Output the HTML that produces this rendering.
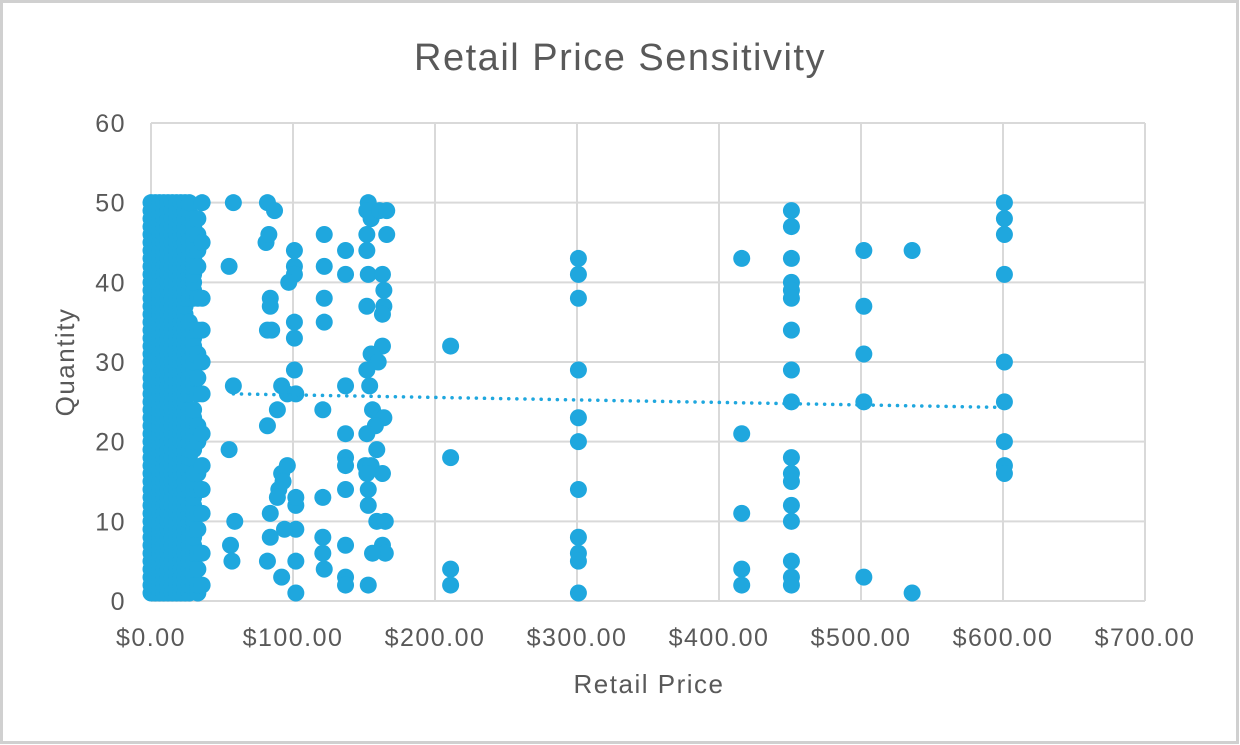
<!DOCTYPE html>
<html><head><meta charset="utf-8">
<style>
html,body{margin:0;padding:0;background:#fff;}
#wrap{position:relative;width:1240px;height:745px;overflow:hidden;}
svg text{font-family:"Liberation Sans","DejaVu Sans",sans-serif;fill:#595959;}
</style></head>
<body>
<div id="wrap">
<svg id="chart" width="1240" height="745">
  <rect x="1.5" y="1.5" width="1236" height="741" fill="#fff" stroke="#d0d0d0" stroke-width="3"/>
  <text x="620" y="70" text-anchor="middle" font-size="38" letter-spacing="1.5">Retail Price Sensitivity</text>
  <g id="grid"></g>
  <g id="yticks"></g>
  <g id="xticks"></g>
  <g id="points"></g>
  <g id="trend"></g>
  <text transform="translate(74,362) rotate(-90)" text-anchor="middle" font-size="26" letter-spacing="1.5">Quantity</text>
  <text x="649" y="693" text-anchor="middle" font-size="26" letter-spacing="1.5">Retail Price</text>
</svg>
</div>
<script>
const xTicks=[0,100,200,300,400,500,600,700];
const xTickLabels=["$0.00","$100.00","$200.00","$300.00","$400.00","$500.00","$600.00","$700.00"];
const yTicks=[0,10,20,30,40,50,60];
const yTickLabels=["0","10","20","30","40","50","60"];
const clusterPrices=[0,3,6,9,12,15,18,21,24,27,30,33,36];
const clusterQtys=[
"1-50","1-50","1-50","1-50","1-50","1-50","1-50","1-50","1-50",
"1-12,14-24,26-35,38-50","2-16,19-24,27-34,38-48","1 2 4 6 9 11 14 16 20 22 26 28 31 34 38 42 44 46 48","2 6 11 14 17 21 26 30 34 38 45 50"
];
const outPrices=[58,55,58,55,59,56,57,
82,87,81,83,84,84,82,85,92,89,82,101,101,101,97,101,101,101,96,102,92,96,93,90,102,102,89,84,102,94,84,102,82,92,102,
122,122,122,122,121,121,121,121,122,
137,137,137,137,137,137,137,137,137,137,
153,152,155,161,166,166,152,152,153,163,164,152,164,163,163,155,160,152,154,156,161,164,158,152,159,151,155,163,152,153,153,159,165,163,165,156,153,
211,211,211,211,
301,301,301,301,301,301,301,301,301,301,301,
416,416,416,416,416,
451,451,451,451,451,451,451,451,451,451,451,451,451,451,451,451,451,
502,502,502,502,502,
536,536,
601,601,601,601,601,601,601,601,601];
const outQtys=[50,42,27,19,10,7,5,
50,49,45,46,38,37,34,34,27,24,22,44,42,41,40,35,33,29,26,26,16,17,15,14,12,13,13,11,9,9,8,5,5,3,1,
46,42,38,35,24,13,8,6,4,
44,41,27,21,18,17,14,7,3,2,
50,49,48,49,49,46,46,44,41,41,39,37,37,36,32,31,30,29,27,24,23,23,22,21,19,17,17,16,16,14,12,10,10,7,6,6,2,
32,18,4,2,
43,41,38,29,23,20,14,8,6,5,1,
43,21,11,4,2,
49,47,43,40,39,38,34,29,25,18,16,15,12,10,5,3,2,
44,37,31,25,3,
44,1,
50,48,46,41,30,25,20,17,16];
const trendX=[58,600];
const trendY=[26,24.3];

const NS="http://www.w3.org/2000/svg";
const X0=151,X1=1145,Y0=601,Y1=123;
function xs(v){return X0+(v-0)/(700-0)*(X1-X0);}
function ys(v){return Y0-(v-0)/(60-0)*(Y0-Y1);}
function mk(tag,attrs,parent){const e=document.createElementNS(NS,tag);for(const k in attrs)e.setAttribute(k,attrs[k]);parent.appendChild(e);return e;}
const grid=document.getElementById('grid');
yTicks.forEach((t,i)=>{
  const l=mk('line',{x1:X0,x2:X1,y1:ys(t),y2:ys(t),stroke:'#d9d9d9','stroke-width':2},grid);
  
  
  const tx=mk('text',{x:126,y:ys(t)+9,'text-anchor':'end','font-size':25,'letter-spacing':1.5},document.getElementById('yticks'));
  tx.textContent=yTickLabels[i];
  
  
});
xTicks.forEach((t,i)=>{
  const l=mk('line',{x1:xs(t),x2:xs(t),y1:Y1,y2:Y0,stroke:'#d9d9d9','stroke-width':2},grid);
  
  
  const tx=mk('text',{x:xs(t),y:646,'text-anchor':'middle','font-size':25,'letter-spacing':1.5},document.getElementById('xticks'));
  tx.textContent=xTickLabels[i];
  
  
});
const pts=document.getElementById('points');
function parseQ(s){const out=[];s.split(/[ ,]+/).forEach(p=>{if(p.includes('-')){const [a,b]=p.split('-').map(Number);for(let q=a;q<=b;q++)out.push(q);}else if(p)out.push(Number(p));});return out;}
function dot(px,q){
  const c=mk('circle',{cx:xs(px),cy:ys(q),r:8.5,fill:'#1FA7DE'},pts);
  
  
}
clusterPrices.forEach((p,i)=>{parseQ(clusterQtys[i]).forEach(q=>dot(p,q));});
outPrices.forEach((p,i)=>dot(p,outQtys[i]));
const tl=mk('line',{x1:xs(trendX[0]),y1:ys(trendY[0]),x2:xs(trendX[1]),y2:ys(trendY[1]),stroke:'#1FA7DE','stroke-width':3.5,'stroke-dasharray':'0.1 8','stroke-linecap':'round'},document.getElementById('trend'));


</script>
</body></html>
